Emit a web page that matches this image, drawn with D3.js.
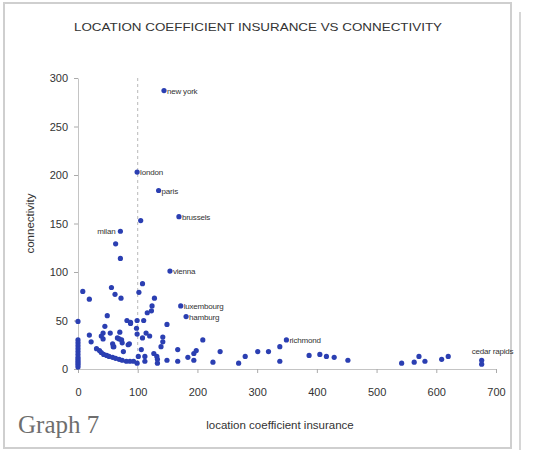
<!DOCTYPE html>
<html>
<head>
<meta charset="utf-8">
<script src="https://cdn.jsdelivr.net/npm/d3@7"></script>
<style>
  html, body { margin: 0; padding: 0; background: #fff; }
  svg { display: block; }
</style>
</head>
<body>
<div id="chart"></div>
<script>
'use strict';

// unlabeled cities: location coefficient insurance / connectivity
const insurance = [
    0, 0, 0, 0, 0, 0, 0, 0, 0, 0, 0, 0, 0,
    8, 19, 56, 62, 72, 63, 71, 105,
    108, 102, 128, 124, 116, 123,
    110, 99, 88, 82, 49, 149, 45, 98, 99,
    54, 70, 114, 120, 108,
    19, 22, 39, 42, 66, 73, 59, 84, 142, 142, 139,
    106, 167, 194, 198, 209, 238, 127, 112, 101, 132,
    149, 167, 184, 194, 112, 133, 133, 99,
    226, 269, 280, 301, 319, 338, 338,
    387, 405, 416, 429, 452, 542, 563, 571, 581, 609, 620, 676,
    31, 36, 39, 43, 48, 52, 58, 63, 69, 74, 81, 87, 93,
    88, 42, 60, 58, 69, 74, 76, 86
];
const connectivity = [
    49, 30, 27, 24, 21, 18, 15, 12, 10, 8, 6, 4, 2,
    80, 72, 84, 77, 73, 129, 114, 153,
    88, 79, 73, 65, 58, 60,
    50, 50, 48, 50, 55, 46, 44, 42, 36,
    37, 38, 37, 34, 32,
    35, 28, 34, 31, 32, 30, 23, 25, 33, 28, 23,
    20, 20, 16, 19, 30, 18, 16, 13, 13, 13,
    9, 8, 12, 9, 8, 10, 6, 6,
    7, 6, 13, 18, 18, 23, 8,
    14, 15, 13, 12, 9, 6, 7, 13, 8, 10, 13, 5,
    21, 19, 17, 15, 14, 13, 12, 11, 10, 9, 8, 8, 8,
    47, 37, 23, 26, 31, 27, 18, 26
];

// labeled cities
const cityNames = ['new york', 'london', 'paris', 'brussels', 'milan', 'vienna',
    'luxembourg', 'hamburg', 'richmond', 'cedar rapids'];
const cityInsurance = [144, 99, 135, 169, 71, 154, 172, 181, 349, 676];
const cityConnectivity = [287, 203, 184, 157, 142, 101, 65, 54, 30, 9];

const xTicks = [0, 100, 200, 300, 400, 500, 600, 700];
const yTicks = [0, 50, 100, 150, 200, 250, 300];
const markerX = 100;

const width = 535, height = 450;
const margin = {top: 78, right: 37, bottom: 81, left: 78};

let svg = d3.select('#chart').append('svg')
    .attr('width', width)
    .attr('height', height);

// panel frame + neighbouring panel edge
svg.append('rect')
    .attr('x', 4).attr('y', 3)
    .attr('width', 507).attr('height', 445)
    .style('fill', '#fff')
    .style('stroke', '#cfcfcf')
    .style('stroke-width', 2);
svg.append('line')
    .attr('x1', 520).attr('x2', 520)
    .attr('y1', 12).attr('y2', height)
    .style('stroke', '#d6d6d6')
    .style('stroke-width', 2);

let x = d3.scaleLinear().domain([0, 700]).range([margin.left, width - margin.right - 2]);
let y = d3.scaleLinear().domain([0, 300]).range([height - margin.bottom, margin.top]);

svg.append('text')
    .text('LOCATION COEFFICIENT INSURANCE VS CONNECTIVITY')
    .attr('x', 258)
    .attr('y', 31)
    .attr('textLength', 368)
    .attr('lengthAdjust', 'spacingAndGlyphs')
    .style('font-family', 'Arial, "Liberation Sans", sans-serif')
    .style('font-size', '11.5px')
    .style('fill', '#333')
    .style('text-anchor', 'middle');

// axes
let xAxis = svg.append('g')
    .attr('transform', 'translate(0,' + y(0) + ')')
    .call(d3.axisBottom(x).tickValues(xTicks).tickSize(4).tickPadding(15).tickSizeOuter(0));
let yAxis = svg.append('g')
    .attr('transform', 'translate(' + x(0) + ',0)')
    .call(d3.axisLeft(y).tickValues(yTicks).tickSize(4).tickPadding(6).tickSizeOuter(0));

[xAxis, yAxis].forEach(function (a) {
    a.select('.domain').style('stroke', '#c4c4c4');
    a.selectAll('.tick line').style('stroke', '#aaa');
    a.selectAll('.tick text')
        .style('font-family', 'Arial, "Liberation Sans", sans-serif')
        .style('font-size', '11px')
        .style('fill', '#333');
});

svg.append('line')
    .attr('x1', x(markerX)).attr('x2', x(markerX))
    .attr('y1', y(300)).attr('y2', y(0))
    .style('stroke', '#b8b8b8')
    .style('stroke-dasharray', '3,3');

svg.append('text')
    .text('location coefficient insurance')
    .attr('x', 280)
    .attr('y', 429)
    .style('font-family', 'Arial, "Liberation Sans", sans-serif')
    .style('font-size', '11.5px')
    .style('fill', '#333')
    .style('text-anchor', 'middle');

svg.append('text')
    .text('connectivity')
    .attr('transform', 'translate(34,' + ((y(0) + y(300)) / 2) + ') rotate(-90)')
    .style('font-family', 'Arial, "Liberation Sans", sans-serif')
    .style('font-size', '11.5px')
    .style('fill', '#333')
    .style('text-anchor', 'middle');

svg.append('text')
    .text('Graph 7')
    .attr('x', 18)
    .attr('y', 433)
    .style('font-family', '"Liberation Serif", "Times New Roman", serif')
    .style('font-size', '25px')
    .style('fill', '#6e6e6e');

// points
let pts = insurance.map(function (v, i) { return {x: v, y: connectivity[i]}; });
let cities = cityNames.map(function (n, i) {
    return {name: n, x: cityInsurance[i], y: cityConnectivity[i]};
});

svg.append('g').selectAll('circle')
    .data(pts.concat(cities))
    .enter().append('circle')
    .attr('cx', function (d) { return x(d.x); })
    .attr('cy', function (d) { return y(d.y); })
    .attr('r', 2.6)
    .style('fill', '#2b3fb2');

svg.append('g').selectAll('text')
    .data(cities)
    .enter().append('text')
    .text(function (d) { return d.name; })
    .attr('x', function (d) {
        if (d.name === 'milan') return x(d.x) - 5;
        if (d.name === 'cedar rapids') return x(d.x) - 10;
        return x(d.x) + 3;
    })
    .attr('y', function (d) {
        if (d.name === 'cedar rapids') return y(d.y) - 6;
        return y(d.y) + 3;
    })
    .style('font-family', 'Arial, "Liberation Sans", sans-serif')
    .style('font-size', '8px')
    .style('letter-spacing', '-0.2px')
    .style('fill', '#333')
    .style('text-anchor', function (d) { return d.name === 'milan' ? 'end' : 'start'; });
</script>
</body>
</html>
